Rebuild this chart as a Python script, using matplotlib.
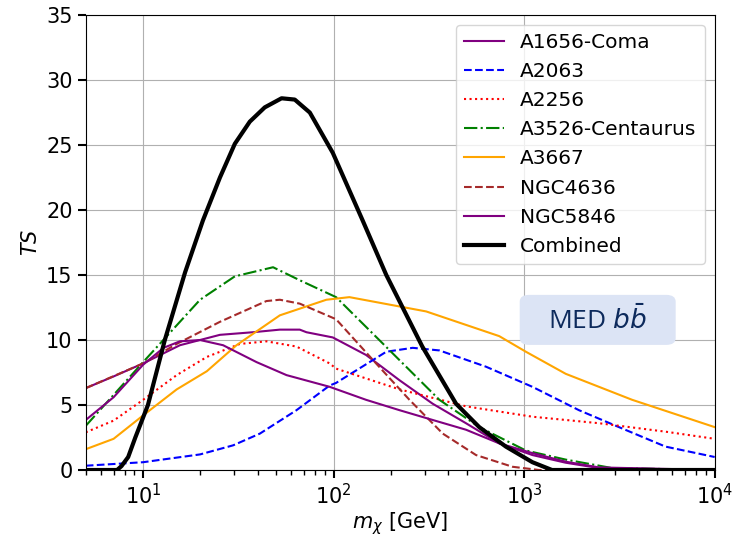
import numpy as np
from matplotlib import pyplot as plt
from matplotlib.patches import FancyBboxPatch

# TS vs DM mass (GeV)
m_combined = [5, 7.3, 7.7, 8.35, 9.1, 10.6, 13.0, 16.6, 20.6, 25.3, 30.3, 36.3, 43.5, 53.3, 62.5,
              75, 99, 142, 189, 292, 439, 581, 802, 1105, 1400, 10000]
ts_combined = [0, 0, 0.3, 1.0, 2.5, 5.0, 10.0, 15.2, 19.2, 22.5, 25.1, 26.8, 27.9, 28.6, 28.5,
               27.5, 24.4, 19.2, 15.0, 9.5, 5.1, 3.3, 1.8, 0.6, 0.0, 0.0]

m_coma = [5, 7, 10, 15.6, 25.3, 37.7, 52.2, 66.4, 72, 99, 148, 222, 331, 495, 740, 1105, 1653,
          2470, 10000]
ts_coma = [6.3, 7.2, 8.2, 9.6, 10.4, 10.6, 10.8, 10.8, 10.6, 10.2, 8.85, 6.9, 5.1, 3.6, 2.05,
           1.15, 0.56, 0.15, 0.0]

m_a2063 = [5, 10, 19.9, 29.7, 41.0, 63.8, 95.3, 103, 189, 260, 359, 630, 1105, 1941, 3144,
           5520, 10000]
ts_a2063 = [0.33, 0.6, 1.2, 1.9, 2.8, 4.6, 6.5, 6.7, 9.1, 9.4, 9.2, 7.95, 6.4, 4.6, 3.3, 1.8, 1.0]

m_a2256 = [5, 7, 10, 15, 21.6, 32.2, 44.4, 63.8, 95.3, 103, 222, 495, 1105, 2470, 5520, 10000]
ts_a2256 = [2.9, 3.8, 5.4, 7.3, 8.7, 9.7, 9.9, 9.5, 8.2, 7.8, 6.2, 4.9, 4.1, 3.6, 2.95, 2.4]

m_a3526 = [5, 10, 19.9, 30.3, 48.1, 66.4, 103, 197, 359, 581, 1021, 1653, 2900, 10000]
ts_a3526 = [3.4, 8.3, 13.1, 14.9, 15.6, 14.6, 13.3, 9.2, 5.4, 3.3, 1.5, 0.8, 0.15, 0.0]

m_a3667 = [5, 7, 10, 15, 21.6, 30.9, 52.2, 91.6, 121, 306, 740, 1021, 1653, 3690, 10000]
ts_a3667 = [1.6, 2.4, 4.2, 6.2, 7.6, 9.6, 11.9, 13.1, 13.3, 12.2, 10.3, 9.1, 7.4, 5.4, 3.3]

m_ngc4636 = [5, 10, 15, 25.3, 44.4, 52.2, 66.4, 103, 167, 250, 374, 559, 868, 1198, 10000]
ts_ngc4636 = [6.3, 8.2, 9.7, 11.4, 13.0, 13.1, 12.8, 11.6, 8.2, 5.4, 2.8, 1.15, 0.25, 0.0, 0.0]

m_ngc5846 = [5, 7, 10, 12.8, 15.6, 19.9, 26.3, 39.4, 56.6, 95.3, 148, 222, 331, 495, 740,
             1105, 1653, 2470, 10000]
ts_ngc5846 = [3.85, 5.6, 8.1, 9.4, 9.9, 10.0, 9.6, 8.3, 7.3, 6.4, 5.4, 4.6, 3.85, 3.1, 2.05,
              1.3, 0.64, 0.2, 0.0]

fig = plt.figure(figsize=(7.33, 5.39), dpi=100)
ax = fig.add_axes([0.117, 0.128, 0.858, 0.844])

ax.plot(m_coma, ts_coma, color="purple", lw=1.5, label="A1656-Coma")
ax.plot(m_a2063, ts_a2063, color="blue", ls="--", lw=1.5, label="A2063")
ax.plot(m_a2256, ts_a2256, color="red", ls=":", lw=1.5, label="A2256")
ax.plot(m_a3526, ts_a3526, color="green", ls="-.", lw=1.5, label="A3526-Centaurus")
ax.plot(m_a3667, ts_a3667, color="orange", lw=1.5, label="A3667")
ax.plot(m_ngc4636, ts_ngc4636, color="brown", ls="--", lw=1.5, label="NGC4636")
ax.plot(m_ngc5846, ts_ngc5846, color="purple", lw=1.5, label="NGC5846")
ax.plot(m_combined, ts_combined, color="black", lw=3, label="Combined")

ax.set_xscale("log")
ax.set_xlim(5, 1e4)
ax.set_ylim(0, 35)
ax.set_xlabel(r"$m_\chi$ [GeV]", fontsize=15, labelpad=1)
ax.set_ylabel(r"$TS$", fontsize=15)
ax.tick_params(which="major", labelsize=15, length=6, width=1.5)
ax.tick_params(which="minor", length=3.5, width=1)
ax.grid(True, which="major", color="#b0b0b0", lw=0.8)

ax.legend(loc="upper right", fontsize=14.5)

# label box
box = FancyBboxPatch((0.69, 0.275), 0.248, 0.11, boxstyle="round,pad=0,rounding_size=0.015",
                     transform=ax.transAxes, fc="#dce4f5", ec="none", zorder=5)
ax.add_patch(box)
ax.text(0.814, 0.33, r"MED $b\bar{b}$", transform=ax.transAxes, ha="center", va="center",
        fontsize=19, family="Open Sans", color="#0d2a5c", zorder=6)

plt.savefig("out.png", dpi=100)
